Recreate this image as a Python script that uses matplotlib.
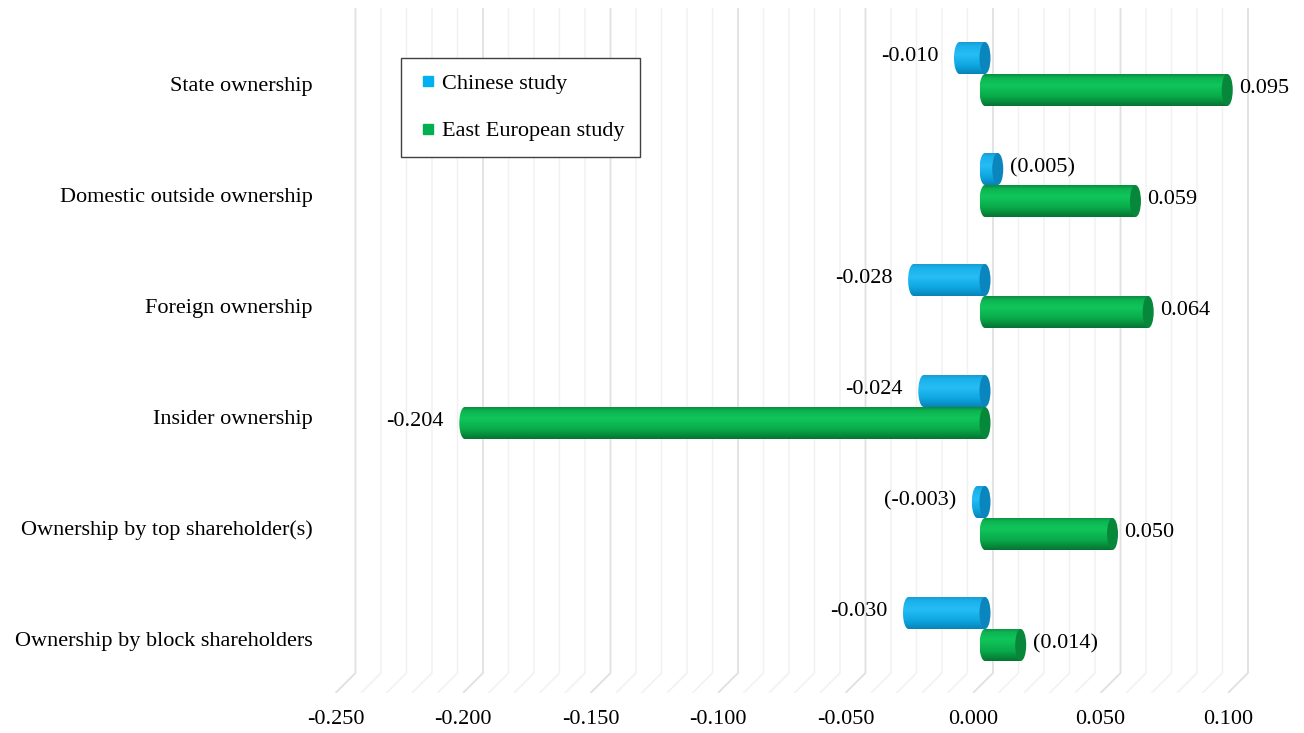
import numpy as np
import matplotlib
matplotlib.use("Agg")
import matplotlib.pyplot as plt
from matplotlib.colors import LinearSegmentedColormap
from matplotlib.patches import Ellipse, PathPatch
from matplotlib.path import Path
from matplotlib.lines import Line2D
from matplotlib.transforms import ScaledTranslation

categories = ["State ownership", "Domestic outside ownership", "Foreign ownership",
              "Insider ownership", "Ownership by top shareholder(s)",
              "Ownership by block shareholders"]
series_names = ["Chinese study", "East European study"]
chinese = [-0.010, 0.005, -0.028, -0.024, -0.003, -0.030]
east_european = [0.095, 0.059, 0.064, -0.204, 0.050, 0.014]
# values printed in brackets in the data labels
chinese_paren = [False, True, False, False, True, False]
east_european_paren = [False, False, False, False, False, True]
xticks = [-0.25, -0.20, -0.15, -0.10, -0.05, 0.0, 0.05, 0.10]
minor_step = 0.01

plt.rcParams['font.family'] = ['Liberation Serif', 'DejaVu Serif']
FS = 16

W, H = 1304, 733
fig = plt.figure(figsize=(W / 100, H / 100), dpi=100)

# pixel layout of the plot area
x_lo, x_hi = -0.26, 0.11
zero_px, px_per_unit = 985, 2550
top_px, bottom_px = 8, 693
row_px, first_row_px = 111, 74
ax_l = zero_px + x_lo * px_per_unit
ax_r = zero_px + x_hi * px_per_unit
ax = fig.add_axes([ax_l / W, 1 - bottom_px / H, (ax_r - ax_l) / W, (bottom_px - top_px) / H])


def py(px):
    # figure pixel row -> data y
    return (px - first_row_px) / row_px


def dx(px):
    return px / px_per_unit


# back wall gridlines with the 3-D floor running towards the viewer
back_off, front_off = dx(8), dx(-12)
grid_vals = np.round(np.arange(xticks[0], xticks[-1] + minor_step / 2, minor_step), 3)
for v in grid_vals:
    major = any(abs(v - t) < 1e-9 for t in xticks)
    ax.plot([v + back_off, v + back_off, v + front_off],
            [py(top_px), py(673), py(bottom_px)],
            color='#e0e0e0' if major else '#f1f1f1', lw=1.3 if major else 1.1,
            zorder=0, solid_capstyle='butt')

green_cmap = LinearSegmentedColormap.from_list(
    'green_cyl', [(0, '#0a8d3f'), (0.12, '#0db552'), (0.35, '#10c65b'),
                  (0.7, '#09aa4a'), (1.0, '#057532')])
blue_cmap = LinearSegmentedColormap.from_list(
    'blue_cyl', [(0, '#1a9cd4'), (0.12, '#1bb2ec'), (0.4, '#25bdf4'),
                 (0.75, '#0ca5df'), (1.0, '#0983b8')])
grad = np.linspace(0, 1, 64).reshape(-1, 1)

half_h = 16 / row_px
cap_a = dx(5.5)


def cylinder(v, yc, cmap, cap_color, z):
    x0, x1 = min(0.0, v), max(0.0, v)
    t = np.linspace(np.pi / 2, 3 * np.pi / 2, 40)
    left = np.column_stack([x0 + cap_a * np.cos(t), yc - half_h * np.sin(t)])
    verts = np.vstack([left, [[x1, yc + half_h], [x1, yc - half_h], left[0]]])
    codes = [Path.MOVETO] + [Path.LINETO] * (len(verts) - 2) + [Path.CLOSEPOLY]
    clip = PathPatch(Path(verts, codes), fc='none', ec='none', transform=ax.transData)
    ax.add_patch(clip)
    im = ax.imshow(grad, extent=[x0 - cap_a, x1, yc + half_h, yc - half_h],
                   cmap=cmap, aspect='auto', interpolation='bilinear', zorder=z)
    im.set_clip_path(clip)
    ax.add_patch(Ellipse((x1, yc), 2 * cap_a, 2 * half_h, fc=cap_color,
                         ec='none', zorder=z + 0.1))


def label(v, yc, paren):
    txt = f"({v:.3f})" if paren else f"{v:.3f}"
    if v >= 0:
        ax.annotate(txt, (v, yc), xytext=(12 * 0.72, 1), textcoords='offset points',
                    ha='left', va='center', fontsize=FS, zorder=6)
    else:
        ax.annotate(txt, (v, yc), xytext=(-21 * 0.72, 1), textcoords='offset points',
                    ha='right', va='center', fontsize=FS, zorder=6)


for i in range(len(categories)):
    cylinder(chinese[i], i - half_h, blue_cmap, '#0b85bd', 3)
    label(chinese[i], i - half_h, chinese_paren[i])
    cylinder(east_european[i], i + half_h, green_cmap, '#07873a', 4)
    label(east_european[i], i + half_h, east_european_paren[i])

ax.set_xlim(x_lo, x_hi)
ax.set_ylim(py(bottom_px), py(top_px))
for s in ax.spines.values():
    s.set_visible(False)
ax.patch.set_visible(False)

ax.set_xticks(xticks)
ax.set_xticklabels([f"{t:.3f}" for t in xticks], fontsize=FS)
ax.set_yticks(range(len(categories)))
ax.set_yticklabels(categories, fontsize=FS)
ax.tick_params(axis='both', length=0)
ax.tick_params(axis='x', pad=12)
ax.tick_params(axis='y', pad=6.5)
for lbl in ax.get_xticklabels():
    lbl.set_transform(lbl.get_transform() + ScaledTranslation(-0.12, 0, fig.dpi_scale_trans))
for lbl in ax.get_yticklabels():
    lbl.set_transform(lbl.get_transform() + ScaledTranslation(0, -0.10, fig.dpi_scale_trans))

handles = [Line2D([], [], marker='s', ls='none', color='#00b0f0', markersize=7),
           Line2D([], [], marker='s', ls='none', color='#00b050', markersize=7)]
leg = fig.legend(handles, series_names, loc='upper left',
                 bbox_to_anchor=(401 / W, 1 - 58 / H), bbox_transform=fig.transFigure,
                 fontsize=FS, frameon=True, fancybox=False, framealpha=1,
                 edgecolor='#404040', borderpad=0.7, handlelength=1.0,
                 handletextpad=0.15, labelspacing=1.2, borderaxespad=0)
leg.get_frame().set_linewidth(1.0)
leg.set_zorder(10)

fig.savefig("out.png", dpi=100)
